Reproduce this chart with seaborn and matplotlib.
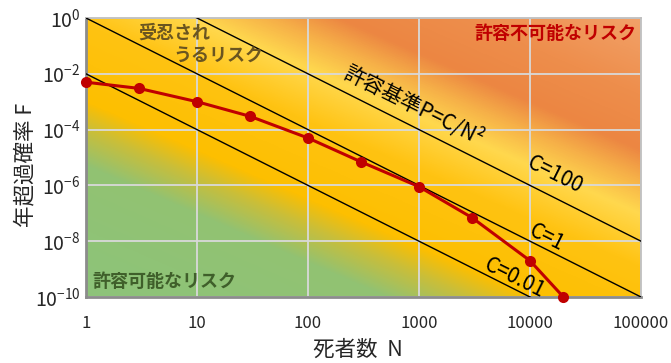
import numpy as np
import pandas as pd
import matplotlib
matplotlib.use("Agg")
import matplotlib.pyplot as plt
import seaborn as sns
from matplotlib.colors import LinearSegmentedColormap
from matplotlib.ticker import FixedLocator, FixedFormatter, LogLocator, NullFormatter

# ── data ──────────────────────────────────────────────────────────────────────
deaths_n = [1, 3, 10, 30, 100, 300, 1000, 3000, 10000, 20000]
freq_f = [5e-3, 3e-3, 1e-3, 3e-4, 5e-5, 7e-6, 9e-7, 7e-8, 2e-9, 1e-10]

c_values = [100, 1, 0.01]
c_labels = ["C=100", "C=1", "C=0.01"]
c_label_pos = [(16800, 10 ** -5.63), (14200, 10 ** -7.88), (7300, 10 ** -9.32)]

x_ticks = [1, 10, 100, 1000, 10000, 100000]
x_tick_labels = ["1", "10", "100", "1000", "10000", "100000"]
y_exps = [0, -2, -4, -6, -8, -10]

# ── style ─────────────────────────────────────────────────────────────────────
sns.set_theme(style="white")
plt.rcParams["font.family"] = ["Noto Sans CJK JP", "DejaVu Sans"]
plt.rcParams["axes.unicode_minus"] = False

fig = plt.figure(figsize=(6.71, 3.63), dpi=100)
rect = [86 / 671, 1 - 297 / 363, 555 / 671, 279 / 363]

# ── background gradient (separate axes behind the plot) ──────────────────────
ax_bg = fig.add_axes(rect, zorder=0)
u, v = np.meshgrid(np.linspace(0, 1, 600), np.linspace(0, 1, 300))
s = 0.87 * u + v
cmap = LinearSegmentedColormap.from_list("risk", [
    (0.00, "#8dc47a"),
    (0.47 / 1.9, "#92c272"),
    (0.60 / 1.9, "#c9be3a"),
    (0.70 / 1.9, "#fdbf00"),
    (0.98 / 1.9, "#ffc312"),
    (1.17 / 1.9, "#ffd84e"),
    (1.29 / 1.9, "#f6b048"),
    (1.40 / 1.9, "#ec8642"),
    (1.60 / 1.9, "#ee8e4c"),
    (1.00, "#f2a46c"),
])
ax_bg.imshow(s / 1.9, cmap=cmap, vmin=0, vmax=1, origin="lower",
             extent=(0, 1, 0, 1), aspect="auto", interpolation="bilinear")
ax_bg.axis("off")

ax = fig.add_axes(rect, zorder=1)
ax.patch.set_alpha(0)
ax.set_xscale("log")
ax.set_yscale("log")

# ── criterion lines F = C / N^2 ──────────────────────────────────────────────
n_line = np.logspace(0, 5, 200)
for c in c_values:
    ax.plot(n_line, c / n_line ** 2, color="black", lw=1.0, zorder=3)

# ── data series ──────────────────────────────────────────────────────────────
df = pd.DataFrame({"N": deaths_n, "F": freq_f})
sns.lineplot(data=df, x="N", y="F", ax=ax, color="#c00000", lw=2.2,
             marker="o", markersize=8, markeredgewidth=0, zorder=5, clip_on=False)

ax.set_xlim(1, 1e5)
ax.set_ylim(1e-10, 1)

# ── ticks / grid ─────────────────────────────────────────────────────────────
ax.xaxis.set_major_locator(FixedLocator(x_ticks))
ax.xaxis.set_major_formatter(FixedFormatter(x_tick_labels))
ax.xaxis.set_minor_locator(LogLocator(base=10, subs=np.arange(1, 10), numticks=100))
ax.xaxis.set_minor_formatter(NullFormatter())

y_ticks = [10.0 ** e for e in y_exps]
ax.yaxis.set_major_locator(FixedLocator(y_ticks))
ax.yaxis.set_major_formatter(FixedFormatter([r"$\mathregular{10^{%d}}$" % e for e in y_exps]))
ax.yaxis.set_minor_locator(LogLocator(base=10, subs=np.arange(1, 10), numticks=100))
ax.yaxis.set_minor_formatter(NullFormatter())

ax.tick_params(axis="both", which="both", direction="in", color="#8c8c8c")
ax.tick_params(axis="both", which="major", length=0)
ax.tick_params(axis="both", which="minor", length=4, width=1)
ax.tick_params(axis="x", labelsize=12, pad=13)
ax.tick_params(axis="y", labelsize=14, pad=4)

ax.grid(True, which="major", color="#d9d9d9", lw=1.3, zorder=2)
ax.set_axisbelow(True)

for side in ("left", "bottom"):
    ax.spines[side].set_color("#8c8c8c")
    ax.spines[side].set_linewidth(2)
for side in ("top", "right"):
    ax.spines[side].set_color("#bfbfbf")
    ax.spines[side].set_linewidth(1.3)

ax.set_xlabel("死者数  N", fontsize=15.5)
ax.set_ylabel("年超過確率 F", fontsize=15.5)
ax.xaxis.set_label_coords(0.490, -0.150)
ax.yaxis.set_label_coords(-0.090, 0.473)

# ── annotations ──────────────────────────────────────────────────────────────
ax.text(0.094, 0.946, "受忍され", transform=ax.transAxes, fontsize=13,
        fontweight="bold", color="#6a5520", va="center", ha="left")
ax.text(0.157, 0.862, "うるリスク", transform=ax.transAxes, fontsize=13,
        fontweight="bold", color="#6a5520", va="center", ha="left")
ax.text(0.991, 0.946, "許容不可能なリスク", transform=ax.transAxes, fontsize=13,
        fontweight="bold", color="#c00000", va="center", ha="right")
ax.text(0.011, 0.054, "許容可能なリスク", transform=ax.transAxes, fontsize=13,
        fontweight="bold", color="#3f5f2a", va="center", ha="left")

ax.text(900, 10 ** -3.15, "許容基準P=C/N²", fontsize=15, rotation=-26.5,
        rotation_mode="anchor", ha="center", va="center", color="black")
for label, (xn, yf) in zip(c_labels, c_label_pos):
    ax.text(xn, yf, label, fontsize=15, rotation=-26.5, rotation_mode="anchor",
            ha="center", va="center", color="black")

fig.savefig("out.png", dpi=100)
